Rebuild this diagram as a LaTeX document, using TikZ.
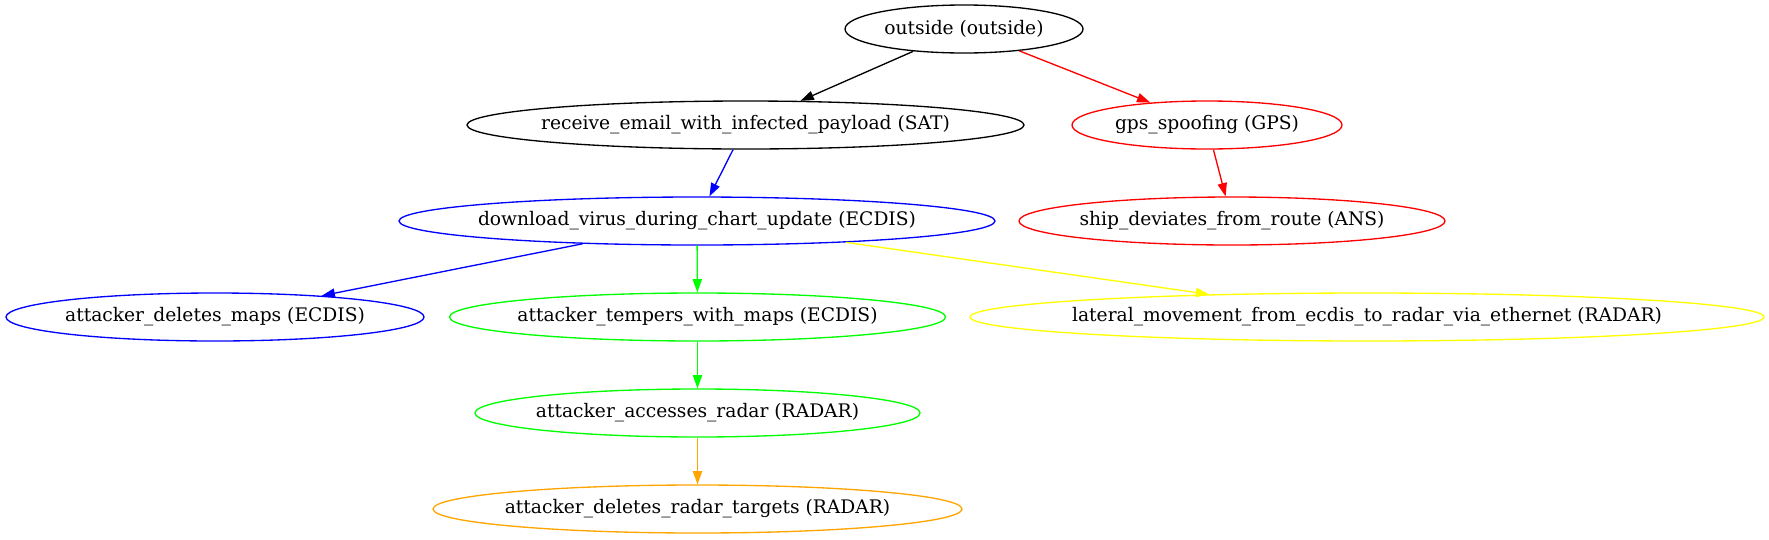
\documentclass[tikz,border=0pt]{standalone}
\usepackage{fontspec}
\setmainfont{DejaVu Serif}
\usetikzlibrary{shapes.geometric,arrows.meta}
\definecolor{gvgreen}{RGB}{0,255,0}
\definecolor{gvyellow}{RGB}{255,255,0}
\definecolor{gvorange}{RGB}{255,165,0}
\definecolor{gvred}{RGB}{255,0,0}
\definecolor{gvblue}{RGB}{0,0,255}
\tikzset{
  gvnode/.style={ellipse, draw, line width=1.33pt, inner sep=0pt, minimum height=48pt,
    font=\fontsize{18.67}{22}\selectfont},
  gvedge/.style={line width=1.33pt, -{Triangle[length=13.3pt,width=9.3pt]}},
}
\newcommand{\lbl}[1]{\makebox[0pt]{#1}}
\begin{document}
\begin{tikzpicture}[x=1pt,y=-1pt]
\useasboundingbox (0,0) rectangle (1769,539);
\node[gvnode, minimum width=238pt] (outside) at (964,29) {\lbl{outside (outside)}};
\node[gvnode, minimum width=557pt] (receive) at (745.5,125) {\lbl{receive\_email\_with\_infected\_payload (SAT)}};
\node[gvnode, gvred, text=black, minimum width=270pt] (gps) at (1207,125) {\lbl{gps\_spoofing (GPS)}};
\node[gvnode, gvblue, text=black, minimum width=596pt] (download) at (697,221) {\lbl{download\_virus\_during\_chart\_update (ECDIS)}};
\node[gvnode, gvred, text=black, minimum width=426pt] (ship) at (1232,221) {\lbl{ship\_deviates\_from\_route (ANS)}};
\node[gvnode, gvblue, text=black, minimum width=418pt] (delmaps) at (215,317) {\lbl{attacker\_deletes\_maps (ECDIS)}};
\node[gvnode, gvgreen, text=black, minimum width=496pt] (tempers) at (697.5,317) {\lbl{attacker\_tempers\_with\_maps (ECDIS)}};
\node[gvnode, gvyellow, text=black, minimum width=794pt] (lateral) at (1367,317) {\lbl{lateral\_movement\_from\_ecdis\_to\_radar\_via\_ethernet (RADAR)}};
\node[gvnode, gvgreen, text=black, minimum width=445pt] (accesses) at (697.5,413) {\lbl{attacker\_accesses\_radar (RADAR)}};
\node[gvnode, gvorange, text=black, minimum width=529pt] (targets) at (697.5,509) {\lbl{attacker\_deletes\_radar\_targets (RADAR)}};
\draw[gvedge, black] (outside) -- (receive);
\draw[gvedge, gvred] (outside) -- (gps);
\draw[gvedge, gvblue] (receive) -- (download);
\draw[gvedge, gvred] (gps) -- (ship);
\draw[gvedge, gvblue] (download) -- (delmaps);
\draw[gvedge, gvgreen] (download) -- (tempers);
\draw[gvedge, gvyellow] (download) -- (lateral);
\draw[gvedge, gvgreen] (tempers) -- (accesses);
\draw[gvedge, gvorange] (accesses) -- (targets);
\end{tikzpicture}
\end{document}
